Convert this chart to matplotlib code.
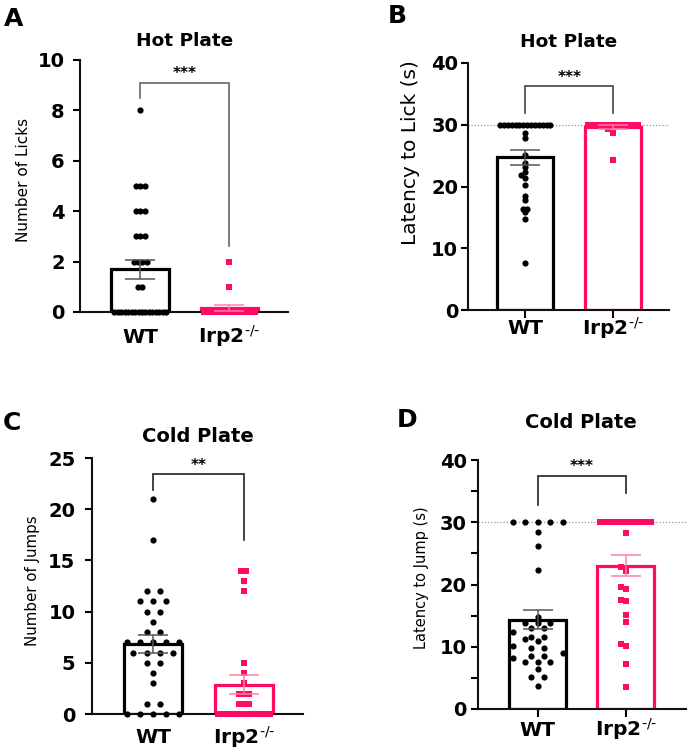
import numpy as np
import matplotlib
matplotlib.use('Agg')
import matplotlib.pyplot as plt

plt.rcParams['font.family'] = ['DejaVu Sans']
plt.rcParams['mathtext.default'] = 'bf'

# ---------------- data ----------------
groups = ['WT', r'Irp2$^{\text{-/-}}$']
groups_fallback = ['WT', r'Irp2$^{-/-}$']

# A: Hot plate - number of licks
a_wt = [8] + [5] * 3 + [4] * 3 + [3] * 3 + [2] * 4 + [1] * 2 + [0] * 16
a_ko = [2, 1] + [0] * 18

# B: Hot plate - latency to lick (s)
b_wt = [30] * 14 + [28.6, 27.8, 25.1, 23.75, 23.1, 22.4, 21.9, 21.3, 20.2,
                    18.5, 17.8, 16.3, 16.3, 15.8, 14.7, 7.6]
b_ko = [30] * 17 + [29.3, 28.7, 24.3]

# C: Cold plate - number of jumps
c_wt = [21, 17, 12, 12, 11, 11, 11, 10, 10, 9, 8, 8,
        7, 7, 7, 7, 7, 6, 6, 6, 6, 5, 5, 4, 3, 1, 1, 0, 0, 0, 0, 0]
c_ko = [14, 14, 13, 12, 5, 4, 3, 2, 2, 2, 1, 1, 1] + [0] * 13

# D: Cold plate - latency to jump (s)
d_wt = [30] * 5 + [28.5, 26.2, 22.3, 14.8, 13.8, 13.8, 13.8, 13.0, 13.0, 12.3,
                   11.5, 11.5, 11.2, 10.9, 10.1, 9.85, 9.85, 9.05, 8.5, 8.5,
                   8.25, 7.5, 7.5, 7.5, 6.5, 5.1, 5.1, 3.75]
d_ko = [30] * 13 + [28.3, 22.8, 22.1, 19.65, 19.3, 17.5, 17.3, 15.1, 13.9,
                    10.4, 10.2, 7.2, 3.6]

PINK = '#FF0A64'
PINK_LIGHT = '#FF80A8'

W, H = 688, 754
fig = plt.figure(figsize=(W / 100, H / 100), dpi=100)
axes = []


def rect(l, r, t, b):
    return [l / W, 1 - b / H, (r - l) / W, (b - t) / H]


def swarm(ax, xc, vals, sep_px, dy_px, half_px):
    vals = np.asarray(vals, float)
    x0, y0 = ax.transData.transform((0, 0))
    x1, y1 = ax.transData.transform((1, 1))
    ppx, ppy = x1 - x0, y1 - y0
    offs = np.zeros(len(vals))
    placed = []
    for v in np.unique(vals):
        idx = np.where(vals == v)[0]
        n = len(idx)
        yp = v * ppy
        if n > 1:
            if (n - 1) * sep_px > 2 * half_px:
                xs = np.linspace(-half_px, half_px, n)
            else:
                xs = (np.arange(n) - (n - 1) / 2) * sep_px
        else:
            kmax = int(half_px // sep_px)
            cands = [0.0]
            for k in range(1, kmax + 1):
                cands += [-k * sep_px, k * sep_px]
            xs = [0.0]
            for c in cands:
                if all(abs(px - c) >= sep_px * 0.95 or abs(py - yp) >= dy_px
                       for px, py in placed):
                    xs = [c]
                    break
        for i, xx in zip(idx, xs):
            offs[i] = xx / ppx
            placed.append((xx, yp))
    return xc + offs


def set_xlabels(ax, labels):
    ax.set_xticks([0, 1])
    ax.set_xticklabels(labels, fontsize=14.5, fontweight='bold')
    for lbl in ax.get_xticklabels():
        lbl.set_va('baseline')


def panel(box, xlim, width, wt, ko, ylim, yticks, ylabel, ylab_c, ylab_fs,
          title, title_c, title_fs, letter, letter_c,
          wt_sep, ko_sep, dy_px, bracket, stars, star_y,
          dotted30=False, xticklen=0, xpad=11, ypad=5, minor=None,
          bracket_color='#444444', wt_err='#555555'):
    l, r, t, b = box
    ax = fig.add_axes(rect(l, r, t, b))
    ax.set_xlim(*xlim)
    ax.set_ylim(*ylim)
    for s in ['top', 'right']:
        ax.spines[s].set_visible(False)
    for s in ['left', 'bottom']:
        ax.spines[s].set_linewidth(1.5)
        ax.spines[s].set_color('#111111')

    wt = np.asarray(wt, float)
    ko = np.asarray(ko, float)
    means = [wt.mean(), ko.mean()]
    sems = [wt.std(ddof=1) / np.sqrt(len(wt)), ko.std(ddof=1) / np.sqrt(len(ko))]

    if dotted30:
        ax.axhline(30, color='#999999', lw=0.9, ls=(0, (1, 1.5)), zorder=1)

    ax.bar([0, 1], means, width=width, color='white',
           edgecolor=['black', PINK], linewidth=2.3, zorder=2)

    half = width / 2 * (ax.transData.transform((1, 0))[0] -
                        ax.transData.transform((0, 0))[0]) - 3
    xw = swarm(ax, 0, wt, wt_sep, dy_px, half)
    xk = swarm(ax, 1, ko, ko_sep, dy_px, half)
    ax.scatter(xw, wt, marker='o', s=20, color='black', linewidths=0, zorder=3,
               clip_on=False)
    ax.scatter(xk, ko, marker='s', s=24, color=PINK, linewidths=0, zorder=3,
               clip_on=False)

    ax.errorbar([0], [means[0]], yerr=[sems[0]], color=wt_err, lw=1.1,
                capsize=10.5, capthick=1.1, zorder=4)
    ax.errorbar([1], [means[1]], yerr=[sems[1]], color=PINK_LIGHT, lw=1.1,
                capsize=10.5, capthick=1.1, zorder=4)

    top, left_end, right_end = bracket
    ax.plot([0, 0, 1, 1], [left_end, top, top, right_end], color=bracket_color,
            lw=1.2, zorder=4, solid_joinstyle='miter')
    ax.text(0.5, star_y, stars, ha='center', va='center', fontsize=11,
            fontweight='bold')

    set_xlabels(ax, groups)
    ax.tick_params(axis='x', length=xticklen, width=1.5, pad=xpad)
    ax.set_yticks(yticks)
    ax.set_yticklabels([str(v) for v in yticks], fontsize=14, fontweight='bold')
    ax.tick_params(axis='y', length=5, width=1.5, pad=ypad)
    if minor is not None:
        ax.set_yticks(minor, minor=True)
        ax.tick_params(axis='y', which='minor', length=5, width=1.5)

    ax.set_ylabel(ylabel, fontsize=ylab_fs, va='center')
    cx, cy = ylab_c
    ax.yaxis.set_label_coords((cx - l) / (r - l), (b - cy) / (b - t))

    fig.text(title_c[0] / W, 1 - title_c[1] / H, title, ha='center',
             va='center', fontsize=title_fs, fontweight='bold')
    fig.text(letter_c[0] / W, 1 - letter_c[1] / H, letter, ha='center',
             va='center', fontsize=18, fontweight='bold')
    axes.append(ax)
    return ax


panel((80, 288, 60, 312), (-0.676, 1.656), 0.65, a_wt, a_ko,
      (0, 10), [0, 2, 4, 6, 8, 10], 'Number of Licks', (24, 180), 11,
      'Hot Plate', (185, 41), 13.3, 'A', (14, 19),
      4.3, 3.2, 5, (9.1, 8.5, 2.6), '***', 9.45,
      xticklen=0, xpad=22.1, ypad=6, bracket_color='#666666')

panel((468, 669, 63, 310), (-0.651, 1.633), 0.64, b_wt, b_ko,
      (0, 40), [0, 10, 20, 30, 40], 'Latency to Lick (s)', (410, 153), 14.5,
      'Hot Plate', (569, 42), 13.3, 'B', (397, 16),
      4.0, 5.0, 4, (36.3, 31.9, 31.9), '***', 37.7,
      dotted30=True, xticklen=6, xpad=11.5, ypad=2, bracket_color='#444444')

panel((92, 303, 458, 714), (-0.676, 1.655), 0.64, c_wt, c_ko,
      (0, 25), [0, 5, 10, 15, 20, 25], 'Number of Jumps', (33, 581), 10.8,
      'Cold Plate', (198, 437), 14, 'C', (12, 423),
      13.3, 5.0, 6, (23.4, 21.9, 17.0), '**', 24.3,
      xticklen=0, xpad=21.1, ypad=7, bracket_color='#222222')

panel((478, 686, 460, 709), (-0.675, 1.684), 0.645, d_wt, d_ko,
      (0, 40), [0, 10, 20, 30, 40], 'Latency to Jump (s)', (421.5, 578), 10.5,
      'Cold Plate', (581, 423), 14, 'D', (407, 420),
      12.5, 5.0, 5, (37.5, 32.8, 34.7), '***', 38.9,
      dotted30=True, xticklen=6, xpad=13.5, ypad=3, minor=[5, 15, 25, 35],
      bracket_color='#222222')

try:
    fig.canvas.draw()
except Exception:
    for ax in axes:
        set_xlabels(ax, groups_fallback)

fig.savefig('out.png', dpi=100)
